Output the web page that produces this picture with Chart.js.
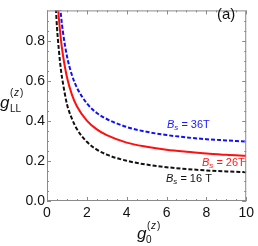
<!DOCTYPE html>
<html><head><meta charset="utf-8">
<script src="https://cdn.jsdelivr.net/npm/chart.js@4/dist/chart.umd.min.js"></script>
<style>html,body{margin:0;padding:0;background:#fff}</style>
</head><body>
<canvas id="c" width="258" height="246"></canvas>
<script>
// g0^(z) sample positions and g_LL^(z) values
const g0Values = [0.4, 0.5, 0.6, 0.7, 0.8, 1.0, 1.25, 1.5, 2.0, 2.5, 3.0, 4.0, 5.0, 6.0, 7.0, 8.0, 9.0, 10.0];
const gLL_36T = [1.30, 1.18, 1.05, 0.93, 0.845, 0.725, 0.63, 0.567, 0.488, 0.44, 0.41, 0.37, 0.346, 0.33, 0.318, 0.309, 0.303, 0.297];
const gLL_26T = [1.27, 1.06, 0.91, 0.805, 0.73, 0.62, 0.532, 0.474, 0.402, 0.358, 0.329, 0.292, 0.271, 0.256, 0.246, 0.238, 0.231, 0.226];
const gLL_16T = [1.05, 0.87, 0.75, 0.655, 0.59, 0.485, 0.412, 0.36, 0.296, 0.257, 0.232, 0.201, 0.182, 0.169, 0.16, 0.153, 0.148, 0.144];
const xTicks = [0, 2, 4, 6, 8, 10];
const yTicks = [0.0, 0.2, 0.4, 0.6, 0.8];
const seriesLabels = ['B_s = 36T', 'B_s = 26T', 'B_s = 16 T'];

const pts = ys => g0Values.map((x, i) => ({x, y: ys[i]}));

const FONT = '"Liberation Sans", Arial, sans-serif';

function drawBLabel(ctx, x, y, rest, color) {
  ctx.save();
  ctx.fillStyle = color;
  ctx.textBaseline = 'alphabetic';
  ctx.textAlign = 'left';
  ctx.font = 'italic 11px ' + FONT;
  ctx.fillText('B', x, y);
  let w = ctx.measureText('B').width;
  ctx.font = 'italic 8px ' + FONT;
  ctx.fillText('s', x + w, y + 2);
  w += ctx.measureText('s').width;
  ctx.font = '11px ' + FONT;
  ctx.fillText(rest, x + w, y);
  ctx.restore();
}

const framePlugin = {
  id: 'frame',
  afterDatasetsDraw(chart) {
    const {ctx, chartArea: a, scales: {x, y}} = chart;
    ctx.save();
    ctx.strokeStyle = '#8a8a8a';
    ctx.lineWidth = 1;
    ctx.strokeRect(a.left + 0.5, a.top + 0.5, a.right - a.left - 1, a.bottom - a.top - 1);
    ctx.beginPath();
    // x ticks (major every 2, minor every 0.5)
    for (let v = 0; v <= 10.001; v += 0.5) {
      const px = Math.round(x.getPixelForValue(v)) + 0.5;
      const L = (Math.abs(v / 2 - Math.round(v / 2)) < 1e-6) ? 4 : 2;
      ctx.moveTo(px, a.bottom); ctx.lineTo(px, a.bottom - L);
      ctx.moveTo(px, a.top); ctx.lineTo(px, a.top + L);
    }
    for (let v = 0; v <= 0.95; v += 0.05) {
      const py = Math.round(y.getPixelForValue(v)) + 0.5;
      const r = v / 0.2;
      const L = (Math.abs(r - Math.round(r)) < 1e-6) ? 4 : 2;
      ctx.moveTo(a.left, py); ctx.lineTo(a.left + L, py);
      ctx.moveTo(a.right, py); ctx.lineTo(a.right - L, py);
    }
    ctx.stroke();

    // axis titles
    ctx.fillStyle = '#111';
    ctx.textBaseline = 'alphabetic';
    ctx.textAlign = 'left';
    // y title g_LL^(z)
    ctx.font = 'italic 17px ' + FONT;
    ctx.fillText('g', 0, 108);
    ctx.font = '10px ' + FONT;
    ctx.fillText('LL', 10, 112);
    ctx.fillText('(', 10, 96);
    ctx.font = 'italic 10px ' + FONT;
    ctx.fillText('z', 14, 96);
    ctx.font = '10px ' + FONT;
    ctx.fillText(')', 20, 96);
    // x title g_0^(z)
    ctx.font = 'italic 17px ' + FONT;
    ctx.fillText('g', 137, 239);
    ctx.font = '10px ' + FONT;
    ctx.fillText('0', 146, 243);
    ctx.fillText('(', 147, 229);
    ctx.font = 'italic 10px ' + FONT;
    ctx.fillText('z', 151, 229);
    ctx.font = '10px ' + FONT;
    ctx.fillText(')', 157, 229);

    // panel label
    ctx.font = '15px ' + FONT;
    ctx.fillText('(a)', 217, 19);

    // series labels
    drawBLabel(ctx, 167, 128, ' = 36T', '#1a1aff');
    drawBLabel(ctx, 202, 166, ' = 26T', '#ff1a1a');
    drawBLabel(ctx, 166, 182, ' = 16 T', '#111');
    ctx.restore();
  }
};

new Chart(document.getElementById('c'), {
  type: 'scatter',
  data: {
    datasets: [
      {label: seriesLabels[0], data: pts(gLL_36T), showLine: true, borderColor: '#1010ff', borderWidth: 2, borderDash: [4, 2], pointRadius: 0, cubicInterpolationMode: 'monotone'},
      {label: seriesLabels[1], data: pts(gLL_26T), showLine: true, borderColor: '#ff1010', borderWidth: 2, pointRadius: 0, cubicInterpolationMode: 'monotone'},
      {label: seriesLabels[2], data: pts(gLL_16T), showLine: true, borderColor: '#111', borderWidth: 2, borderDash: [4, 2], pointRadius: 0, cubicInterpolationMode: 'monotone'}
    ]
  },
  options: {
    responsive: false,
    animation: false,
    layout: {padding: {top: 0, right: 9, bottom: 0, left: 0}},
    plugins: {legend: {display: false}, tooltip: {enabled: false}},
    scales: {
      x: {
        type: 'linear', min: 0, max: 10,
        grid: {display: false, drawTicks: false},
        border: {display: false},
        afterBuildTicks: s => { s.ticks = xTicks.map(v => ({value: v})); },
        afterFit: s => { s.height = 45; },
        ticks: {color: '#111', font: {family: FONT, size: 14}, padding: 4, maxRotation: 0, callback: v => String(v)}
      },
      y: {
        type: 'linear', min: 0, max: 0.953,
        grid: {display: false, drawTicks: false},
        border: {display: false},
        afterBuildTicks: s => { s.ticks = yTicks.map(v => ({value: v})); },
        afterFit: s => { s.width = 47; },
        ticks: {color: '#111', font: {family: FONT, size: 14}, padding: 2, callback: v => Number(v).toFixed(1)}
      }
    }
  },
  plugins: [framePlugin]
});
</script>
</body></html>
